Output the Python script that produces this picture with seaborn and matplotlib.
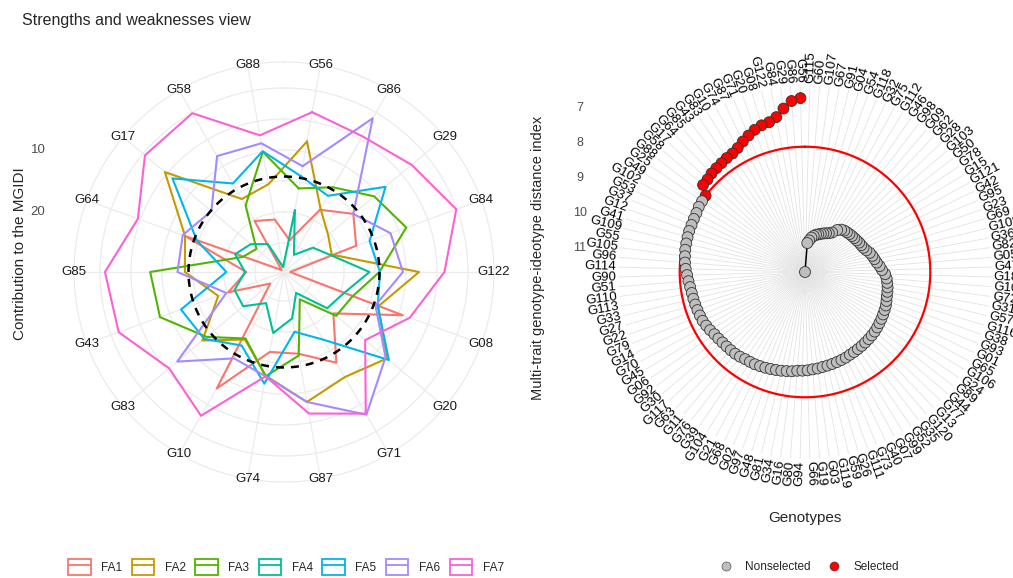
import numpy as np
import pandas as pd
import matplotlib
matplotlib.use("Agg")
import matplotlib.pyplot as plt
import seaborn as sns
from matplotlib.patches import Patch
from matplotlib.lines import Line2D
from matplotlib.legend_handler import HandlerTuple

# ---------------- data: contribution of each factor to the MGIDI (%) ----------------
genotypes_sel = ["G56", "G86", "G29", "G84", "G122", "G08", "G20", "G71", "G87",
                 "G74", "G10", "G83", "G43", "G85", "G64", "G17", "G58", "G88"]
factors = ["FA1", "FA2", "FA3", "FA4", "FA5", "FA6", "FA7"]
fa1 = [24.5, 18.1, 15.1, 17.3, 28.7, 9.3, 19.3, 12.8, 16.3, 16.6, 8.0, 26.8, 20.1, 23.6, 12.7, 29.2, 20.2, 21.1]
fa2 = [8.3, 17.9, 20.4, 21.5, 7.9, 13.5, 8.0, 10.1, 8.4, 12.7, 17.1, 12.5, 18.4, 13.7, 12.7, 4.6, 16.1, 15.3]
fa3 = [16.0, 13.9, 10.7, 8.7, 14.3, 18.0, 18.7, 24.6, 16.0, 12.6, 17.3, 13.4, 8.4, 8.1, 22.6, 23.9, 17.3, 10.0]
fa4 = [19.6, 26.5, 23.6, 21.7, 15.9, 19.5, 20.6, 25.8, 22.1, 19.7, 23.9, 21.1, 21.2, 23.4, 21.3, 22.7, 24.5, 28.9]
fa5 = [14.0, 15.5, 8.3, 15.0, 14.2, 13.6, 7.6, 17.1, 19.9, 11.4, 16.0, 12.9, 12.0, 20.4, 14.7, 6.2, 13.2, 9.9]
fa6 = [12.35, 1.05, 15.1, 11.4, 10.5, 14.0, 8.3, 3.1, 8.4, 12.6, 13.6, 7.2, 19.8, 12.5, 12.3, 14.4, 8.1, 8.6]
fa7 = [3.5, 4.4, 2.8, 0.1, 3.8, 8.1, 12.6, 3.3, 6.5, 12.6, 2.9, 5.5, 1.3, 0.8, 4.6, 0.4, 0.1, 7.3]
radar_ticks = [10, 20]

# ---------------- data: MGIDI index of every genotype (ranked) ----------------
mgidi = [6.72, 6.79, 6.98, 7.19, 7.29, 7.32, 7.38, 7.47, 7.56, 7.66, 7.72, 7.74, 7.77, 7.79, 7.81, 7.85, 7.86, 8.11,
         8.12, 8.13, 8.16, 8.17, 8.18, 8.18, 8.19, 8.20, 8.21, 8.23, 8.25, 8.28,
         8.32, 8.35, 8.38, 8.40, 8.41, 8.42, 8.43, 8.44, 8.45, 8.48,
         8.51, 8.55, 8.57, 8.59, 8.60, 8.61, 8.62, 8.64, 8.67, 8.68,
         8.69, 8.71, 8.73, 8.75, 8.77, 8.79, 8.81, 8.83, 8.86, 8.87,
         8.88, 8.90, 8.91, 8.93, 8.94, 8.95, 8.96, 8.97, 8.98, 9.00,
         9.01, 9.02, 9.03, 9.04, 9.05, 9.06, 9.07, 9.09, 9.11, 9.13,
         9.15, 9.17, 9.19, 9.22, 9.25, 9.27, 9.29, 9.32, 9.35, 9.40,
         9.49, 9.55, 9.62, 9.67, 9.71, 9.76, 9.83, 9.88, 9.91, 9.93,
         9.96, 9.98, 10.00, 10.02, 10.04, 10.06, 10.10, 10.18, 10.32, 10.39,
         10.43, 10.47, 10.51, 10.55, 10.58, 10.63, 10.69, 10.78, 10.86, 11.69]
genotype_names = (genotypes_sel +
                  ["G25", "G49", "G102", "G53", "G37", "G12", "G41",
                   "G109", "G55", "G105", "G96", "G114", "G90", "G51", "G110", "G113",
                   "G33", "G27", "G22", "G79", "G14", "G70",
                   "G45", "G06", "G92", "G30", "G117", "G63", "G11", "G76", "G39", "G104",
                   "G21", "G68", "G02", "G97", "G48", "G81", "G34", "G16", "G80", "G94",
                   "G66", "G19", "G03", "G119", "G59", "G26", "G111", "G73", "G40", "G07",
                   "G99", "G52", "G35", "G120", "G13", "G77", "G44", "G89", "G24", "G106",
                   "G65", "G01", "G93", "G38", "G116", "G57", "G31", "G72", "G101", "G18",
                   "G47", "G05", "G82", "G36", "G108", "G69", "G23", "G95", "G42", "G121",
                   "G15", "G78", "G50", "G103", "G28", "G62", "G09", "G98", "G46", "G112",
                   "G75", "G32", "G118", "G54", "G04", "G91", "G67", "G107", "G60",
                   "G115"])
n_selected = 18
mgidi_ticks = [7, 8, 9, 10, 11]

# ---------------- style ----------------
sns.set_style("white")
plt.rcParams["font.family"] = ["Liberation Sans", "DejaVu Sans"]
palette = ["#F8766D", "#C49A00", "#53B400", "#00C094", "#00B6EB", "#A58AFF", "#FB61D7"]
grid_col = "#EBEBEB"
tick_col = "#4D4D4D"

W, H = 1013, 578
fig = plt.figure(figsize=(W / 100, H / 100), dpi=100)

# ================= left: strengths and weaknesses radar =================
cx, cy, R = 284, 272, 210
axl = fig.add_axes([(cx - R) / W, 1 - (cy + R) / H, 2 * R / W, 2 * R / H], projection="polar")
axl.set_theta_zero_location("N")
axl.set_theta_direction(-1)
r_center, r_outer = 29.7, -4.2
axl.set_ylim(r_center, r_outer)

n_g = len(genotypes_sel)
theta_g = np.deg2rad(360 / n_g / 2 + 360 / n_g * np.arange(n_g))
theta_closed = np.append(theta_g, theta_g[0] + 2 * np.pi)

values = [fa1, fa2, fa3, fa4, fa5, fa6, fa7]
frames = []
for f, vals in zip(factors, values):
    frames.append(pd.DataFrame({"factor": f, "theta": theta_closed,
                                "value": list(vals) + [vals[0]]}))
df_radar = pd.concat(frames, ignore_index=True)

axl.set_xticks(theta_g)
axl.set_xticklabels([])
axl.set_yticks([0, 5, 10, 15, 20, 25])
axl.set_yticklabels([])
axl.grid(True, color=grid_col, lw=0.9)
axl.spines["polar"].set_color(grid_col)
axl.spines["polar"].set_linewidth(0.9)
axl.tick_params(length=0)

sns.lineplot(data=df_radar, x="theta", y="value", hue="factor", palette=palette,
             sort=False, estimator=None, units="factor", lw=1.5, legend=False, ax=axl)
circ = np.linspace(0, 2 * np.pi, 400)
mean_contrib = 100 / len(factors)
axl.plot(circ, np.full_like(circ, mean_contrib), color="black", lw=1.8,
         dashes=(3.2, 2.8), zorder=5)
axl.set_xlabel("")
axl.set_ylabel("")

for t, name in zip(theta_g, genotypes_sel):
    axl.text(t, r_outer, name, ha="center", va="center", fontsize=9.5, color="#1A1A1A",
             clip_on=False, zorder=6)

for v in radar_ticks:
    y_disp = axl.transData.transform((0, v))[1]
    fig.text(38 / W, y_disp / H, str(v), ha="center", va="center", fontsize=9.5, color=tick_col)

fig.text(22 / W, 1 - 20 / H, "Strengths and weaknesses view", ha="left", va="center", fontsize=11.5)
fig.text(20 / W, 1 - 254 / H, "Contribution to the MGIDI", rotation=90, ha="center", va="center",
         fontsize=11)

handles = [(Patch(facecolor="white", edgecolor=c, lw=1.3), Line2D([], [], color=c, lw=1.3))
           for c in palette]
fig.legend(handles, factors, handler_map={tuple: HandlerTuple(ndivide=1, pad=0)}, ncol=7,
           loc="center", bbox_to_anchor=(286 / W, 1 - 567 / H), frameon=False, fontsize=8.5,
           handlelength=1.9, handleheight=1.6, columnspacing=0.8, handletextpad=0.9)

# ================= right: MGIDI ranking =================
cx2, cy2, R2 = 805, 272, 187
axr = fig.add_axes([(cx2 - R2) / W, 1 - (cy2 + R2) / H, 2 * R2 / W, 2 * R2 / H], projection="polar")
axr.set_theta_zero_location("N")
axr.set_theta_direction(1)
n = len(mgidi)
center_val = max(mgidi)
px_per_unit = 35.0
outer_val = center_val - R2 / px_per_unit
axr.set_ylim(center_val, outer_val)

theta_r = np.deg2rad((np.arange(n) + 0.5) * 360 / n)
status = ["Selected" if i < n_selected else "Nonselected" for i in range(n)]
df_m = pd.DataFrame({"theta": theta_r, "MGIDI": mgidi, "Genotype": genotype_names, "status": status})

axr.set_xticks(theta_r)
axr.set_xticklabels([])
axr.set_yticks([])
axr.grid(True, axis="x", color="#E3E3E3", lw=0.6)
axr.spines["polar"].set_visible(False)
axr.tick_params(length=0)

cutpoint = max(mgidi[:n_selected])
axr.plot(circ, np.full_like(circ, cutpoint), color="#FF0000", lw=1.6, zorder=2)
sns.lineplot(data=df_m, x="theta", y="MGIDI", sort=False, estimator=None, color="black",
             lw=1.1, ax=axr, zorder=3)
sns.scatterplot(data=df_m, x="theta", y="MGIDI", hue="status",
                palette={"Nonselected": "#BEBEBE", "Selected": "#FF0000"},
                edgecolor="#333333", linewidth=0.6, s=62, ax=axr, zorder=4, legend=False)
axr.set_xlabel("")
axr.set_ylabel("")

label_r = center_val - 189 / px_per_unit
for t, name in zip(theta_r, genotype_names):
    deg = np.rad2deg(t)
    if deg < 180:
        rot, ha = deg - 90, "right"
    else:
        rot, ha = deg - 270, "left"
    axr.text(t, label_r, name, rotation=rot, rotation_mode="anchor", ha=ha, va="center",
             fontsize=9.5, color="black", clip_on=False)

for v in mgidi_ticks:
    y_disp = axr.transData.transform((0, v))[1]
    fig.text(580 / W, y_disp / H, str(v), ha="center", va="center", fontsize=9, color=tick_col)

fig.text(538 / W, 1 - 258 / H, "Multi-trait genotype-ideotype distance index", rotation=90,
         ha="center", va="center", fontsize=10.5)
fig.text(805 / W, 1 - 518 / H, "Genotypes", ha="center", va="center", fontsize=11)

pt_handles = [Line2D([], [], marker="o", ls="", markerfacecolor=c, markeredgecolor="#333333",
                     markeredgewidth=0.4, markersize=6.5) for c in ["#BEBEBE", "#FF0000"]]
fig.legend(pt_handles, ["Nonselected", "Selected"], ncol=2, loc="center",
           bbox_to_anchor=(809 / W, 1 - 567 / H), frameon=False, fontsize=8.5,
           handlelength=1.2, columnspacing=1.4, handletextpad=1.0)

fig.savefig("out.png", dpi=100, facecolor="white")
